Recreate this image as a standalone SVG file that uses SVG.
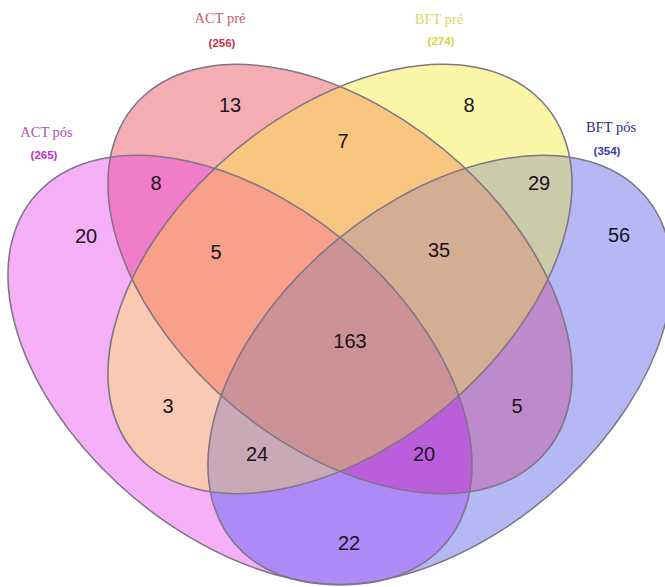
<svg xmlns="http://www.w3.org/2000/svg" xmlns:xlink="http://www.w3.org/1999/xlink" width="665" height="587" viewBox="0 0 665 587">
  <style>
    .outline { fill: none; stroke: #7f7587; stroke-width: 1.6; }
    .num { font-family: "Liberation Sans", Arial, sans-serif; font-size: 20px; fill: #1a1420; text-anchor: middle; }
    .title { font-family: "Liberation Serif", "Times New Roman", serif; font-size: 14.5px; text-anchor: middle; }
    .count { font-family: "Liberation Sans", Arial, sans-serif; font-size: 11.5px; font-weight: bold; text-anchor: middle; }
  </style>
  <defs>
    <ellipse id="eA" cx="240" cy="400" rx="278.7" ry="173.2" transform="scale(1 0.925) rotate(45 240 400)"/>
    <ellipse id="eB" cx="340" cy="301.6" rx="278.7" ry="173.2" transform="scale(1 0.925) rotate(45 340 301.6)"/>
    <ellipse id="eC" cx="340" cy="301.6" rx="278.7" ry="173.2" transform="scale(1 0.925) rotate(-45 340 301.6)"/>
    <ellipse id="eD" cx="440" cy="400" rx="278.7" ry="173.2" transform="scale(1 0.925) rotate(-45 440 400)"/>
    <clipPath id="cA"><use href="#eA"/></clipPath>
    <clipPath id="cB"><use href="#eB"/></clipPath>
    <clipPath id="cC"><use href="#eC"/></clipPath>
    <clipPath id="cD"><use href="#eD"/></clipPath>
  </defs>
  <rect width="665" height="587" fill="#ffffff"/>

  <g id="region-fills">
    <!-- single sets -->
    <use href="#eA" fill="#f5b0f8"/>
    <use href="#eD" fill="#b4b9f6"/>
    <use href="#eB" fill="#f4adb3"/>
    <use href="#eC" fill="#fbf6a6"/>
    <!-- pairs -->
    <g clip-path="url(#cA)"><use href="#eB" fill="#f17cc9"/></g>
    <g clip-path="url(#cA)"><use href="#eC" fill="#f9c9b1"/></g>
    <g clip-path="url(#cA)"><use href="#eD" fill="#ae8af7"/></g>
    <g clip-path="url(#cB)"><use href="#eC" fill="#f8c680"/></g>
    <g clip-path="url(#cB)"><use href="#eD" fill="#bf8acc"/></g>
    <g clip-path="url(#cC)"><use href="#eD" fill="#cbcba9"/></g>
    <!-- triples -->
    <g clip-path="url(#cA)"><g clip-path="url(#cB)"><use href="#eC" fill="#f8a08a"/></g></g>
    <g clip-path="url(#cA)"><g clip-path="url(#cB)"><use href="#eD" fill="#bb5edb"/></g></g>
    <g clip-path="url(#cA)"><g clip-path="url(#cC)"><use href="#eD" fill="#c9a9b5"/></g></g>
    <g clip-path="url(#cB)"><g clip-path="url(#cC)"><use href="#eD" fill="#d4ae93"/></g></g>
    <!-- all four -->
    <g clip-path="url(#cA)"><g clip-path="url(#cB)"><g clip-path="url(#cC)"><use href="#eD" fill="#cd9296"/></g></g></g>
  </g>

  <g id="set-act-pos">
    <use href="#eA" class="outline"/>
    <text class="title" x="46.5" y="137" fill="#b052b0">ACT pós</text>
    <text class="count" x="44" y="159" fill="#c030d0">(265)</text>
  </g>
  <g id="set-act-pre">
    <use href="#eB" class="outline"/>
    <text class="title" x="220" y="23" fill="#c85a64">ACT pré</text>
    <text class="count" x="222" y="47" fill="#cc3344">(256)</text>
  </g>
  <g id="set-bft-pre">
    <use href="#eC" class="outline"/>
    <text class="title" x="439" y="24" fill="#dcd66a">BFT pré</text>
    <text class="count" x="441" y="45" fill="#d9d23a">(274)</text>
  </g>
  <g id="set-bft-pos">
    <use href="#eD" class="outline"/>
    <text class="title" x="611" y="132" fill="#2e2e8a">BFT pós</text>
    <text class="count" x="607" y="155" fill="#3a3aa8">(354)</text>
  </g>

  <g id="region-labels">
    <text class="num" x="230" y="112">13</text>
    <text class="num" x="469" y="112">8</text>
    <text class="num" x="343" y="148">7</text>
    <text class="num" x="156" y="190">8</text>
    <text class="num" x="539" y="190">29</text>
    <text class="num" x="86" y="243">20</text>
    <text class="num" x="619" y="242">56</text>
    <text class="num" x="216" y="259">5</text>
    <text class="num" x="439" y="257">35</text>
    <text class="num" x="350" y="348">163</text>
    <text class="num" x="168" y="413">3</text>
    <text class="num" x="517" y="413">5</text>
    <text class="num" x="257" y="461">24</text>
    <text class="num" x="424" y="461">20</text>
    <text class="num" x="349" y="550">22</text>
  </g>
</svg>
